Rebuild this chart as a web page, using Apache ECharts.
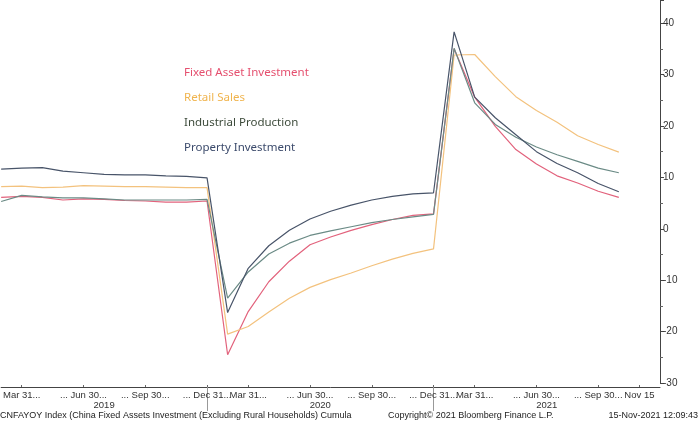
<!DOCTYPE html>
<html>
<head>
<meta charset="utf-8">
<script src="https://cdn.jsdelivr.net/npm/echarts@6/dist/echarts.min.js"></script>
<style>html,body{margin:0;padding:0;background:#fff}#c{width:700px;height:423px}</style>
</head>
<body>
<div id="c"></div>
<script>
// Observation periods (YTD cumulative, Jan-Feb reported at Feb), plus as-of date and axis end pad
const periods = [
  '2019-02','2019-03','2019-04','2019-05','2019-06','2019-07','2019-08','2019-09','2019-10','2019-11','2019-12',
  '2020-02','2020-03','2020-04','2020-05','2020-06','2020-07','2020-08','2020-09','2020-10','2020-11','2020-12',
  '2021-02','2021-03','2021-04','2021-05','2021-06','2021-07','2021-08','2021-09','2021-10',
  '2021-11-15','2021-12-end'
];
const fixedAssetInvestment = [6.1,6.3,6.1,5.6,5.8,5.7,5.5,5.4,5.2,5.2,5.4,
  -24.5,-16.1,-10.3,-6.3,-3.1,-1.6,-0.3,0.8,1.8,2.6,2.9,
  35.0,25.6,19.9,15.4,12.6,10.3,8.9,7.3,6.1];
const retailSales = [8.2,8.3,8.0,8.1,8.4,8.3,8.2,8.2,8.1,8.0,8.0,
  -20.5,-19.0,-16.2,-13.5,-11.4,-9.9,-8.6,-7.2,-5.9,-4.8,-3.9,
  33.8,33.9,29.6,25.7,23.0,20.7,18.1,16.4,14.9];
const industrialProduction = [5.3,6.5,6.2,6.0,6.0,5.8,5.6,5.6,5.6,5.6,5.7,
  -13.5,-8.4,-4.9,-2.8,-1.3,-0.4,0.4,1.2,1.8,2.3,2.8,
  35.1,24.5,20.3,17.8,15.9,14.4,13.1,11.8,10.9];
const propertyInvestment = [11.6,11.8,11.9,11.2,10.9,10.6,10.5,10.5,10.3,10.2,9.9,
  -16.3,-7.7,-3.3,-0.3,1.9,3.4,4.6,5.6,6.3,6.8,7.0,
  38.3,25.6,21.6,18.3,15.0,12.7,10.9,8.8,7.2];

const labelPeriods = ['2019-03','2019-06','2019-09','2019-12','2020-03','2020-06','2020-09','2020-12','2021-03','2021-06','2021-09','2021-11-15'];
const labelTexts = ['Mar 31...','... Jun 30...','... Sep 30...','... Dec 31...','Mar 31...','... Jun 30...','... Sep 30...','... Dec 31...','Mar 31...','... Jun 30...','... Sep 30...','Nov 15'];
const years = ['2019','2020','2021'];
const yTicks = [-30,-20,-10,0,10,20,30,40];

const seriesNames = ['Fixed Asset Investment','Retail Sales','Industrial Production','Property Investment'];
const lineColors = ['#e2627c','#f3c27e','#6b8b86','#485469'];
const textColors = ['#e5506f','#f0b44e','#3c4a3a','#3b4a6b'];

// year separators (last observation of each year) and year label centres
const lastIdx = periods.length - 1;
const separators = [];
const yearCenters = [];
let start = 0;
years.forEach(function (y, k) {
  let end = lastIdx;
  if (k < years.length - 1) {
    end = periods.map(function (p) { return p.slice(0, 4); }).lastIndexOf(y);
    separators.push(end);
  }
  yearCenters.push((start + end) / 2);
  start = end;
});

const chart = echarts.init(document.getElementById('c'));
const font = '"Liberation Sans Narrow", "Liberation Sans"';
chart.setOption({
  animation: false,
  backgroundColor: '#fff',
  grid: { left: 0, right: 40, top: 0, bottom: 40, containLabel: false },
  legend: {
    orient: 'vertical', left: 174, top: 61, itemGap: 12, icon: 'none', itemWidth: 0,
    selectedMode: false,
    data: seriesNames.map(function (n, i) {
      return { name: n, textStyle: { color: textColors[i] } };
    }),
    textStyle: { fontFamily: 'Noto Sans', fontSize: 11.5 }
  },
  xAxis: [{
    type: 'category', data: periods, boundaryGap: false, offset: 4,
    axisLine: { onZero: false, lineStyle: { color: '#444', width: 1 } },
    axisTick: { show: true, inside: true, length: 2, lineStyle: { color: '#666' } },
    axisLabel: {
      interval: function (i, v) { return labelPeriods.indexOf(v) >= 0; },
      formatter: function (v) { return labelTexts[labelPeriods.indexOf(v)]; },
      hideOverlap: false,
      fontFamily: font, fontSize: 9.5, color: '#333', margin: 3
    },
    splitLine: { show: false }
  }, {
    type: 'value', min: 0, max: lastIdx, position: 'bottom', offset: 4,
    axisLine: { show: false, onZero: false },
    axisTick: { show: true, customValues: separators, length: 24, lineStyle: { color: '#999' } },
    axisLabel: {
      customValues: yearCenters,
      formatter: function (v) { return years[yearCenters.indexOf(v)]; },
      fontFamily: font, fontSize: 9.5, color: '#333', margin: 13
    },
    splitLine: { show: false }
  }],
  yAxis: {
    type: 'value', position: 'right', min: -30, max: 44.5, interval: 10,
    axisLine: { show: true, onZero: false, lineStyle: { color: '#444', width: 1 } },
    axisTick: { show: true, length: 4, lineStyle: { color: '#444' } },
    minorTick: { show: true, splitNumber: 2, length: 3, lineStyle: { color: '#666' } },
    splitLine: { show: false },
    axisLabel: {
      showMaxLabel: false, fontFamily: font, fontSize: 10, color: '#333', margin: 3,
      formatter: function (v) { return yTicks.indexOf(v) >= 0 ? String(v) : ''; }
    }
  },
  series: [fixedAssetInvestment, retailSales, industrialProduction, propertyInvestment].map(function (d, i) {
    return {
      name: seriesNames[i], type: 'line', data: d, xAxisIndex: 0, symbol: 'none',
      lineStyle: { color: lineColors[i], width: 1.2 }, itemStyle: { color: lineColors[i] }
    };
  }),
  graphic: [
    { type: 'text', left: 0, top: 411, style: { text: 'CNFAYOY Index (China Fixed Assets Investment (Excluding Rural Households) Cumula', font: '9px "Liberation Sans"', fill: '#222' } },
    { type: 'text', left: 388, top: 411, style: { text: 'Copyright\u00a9 2021 Bloomberg Finance L.P.', font: '9px "Liberation Sans"', fill: '#222' } },
    { type: 'text', right: 2, top: 411, style: { text: '15-Nov-2021 12:09:43', font: '9px "Liberation Sans"', fill: '#222' } }
  ]
});
</script>
</body>
</html>
